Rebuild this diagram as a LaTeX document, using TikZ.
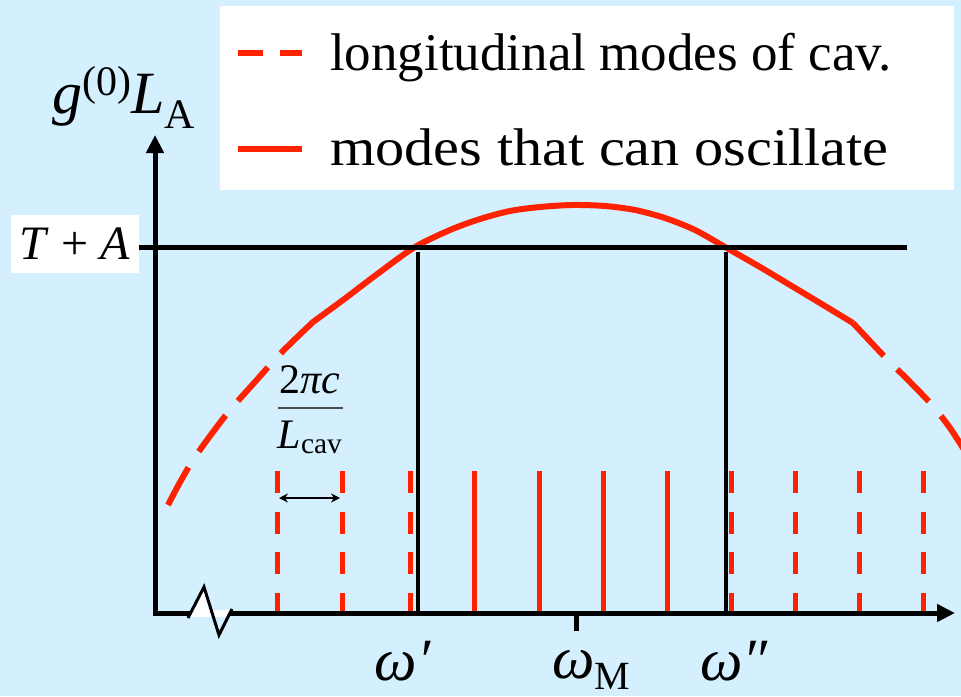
\documentclass[tikz,border=0pt]{standalone}
\usepackage{fontspec}
\setmainfont{Liberation Serif}
\usetikzlibrary{arrows.meta}
\definecolor{skyback}{RGB}{212,239,253}
\definecolor{modered}{RGB}{255,34,0}

\begin{document}
\begin{tikzpicture}[x=1pt, y=-1pt,
    axis/.style={line width=5pt, {Triangle[length=18pt,width=17pt]}-{Triangle[length=18pt,width=17pt]}},
    level/.style={line width=5pt},
    cutoff/.style={line width=3.5pt},
    gain/.style={modered, line width=6pt},
    gaindash/.style={gain, dash pattern=on 45pt off 19pt},
    mode/.style={modered, line width=5pt},
    modedash/.style={mode, dash pattern=on 22pt off 18.5pt},
    legtext/.style={anchor=base west, inner sep=0pt, font=\fontsize{53}{60}\selectfont},
    omega/.style={anchor=base, inner sep=0pt, font=\fontsize{60}{66}\selectfont},
]

% Background
\fill[skyback] (0,0) rectangle (961,696);
\useasboundingbox (0,0) rectangle (961,696);

% Legend
\node[fill=white, anchor=north west, minimum width=734pt, minimum height=184pt, inner sep=0pt] (legend) at (220,6) {};
\coordinate (d1) at (238,53);
\coordinate (d2) at (302,53);
\draw[modered, line width=6pt, dash pattern=on 25pt off 17pt] (d1) -- (d2);
\node[legtext] (cavtext) at (330,70) {longitudinal modes of cav.};
\coordinate (s1) at (238,149);
\coordinate (s2) at (302,149);
\draw[modered, line width=6pt] (s1) -- (s2);
\node[legtext] (osctext) at (330,165) {\scalebox{1.1}[1]{modes that can oscillate}};

% Gain curve
\draw[gain] plot[smooth] coordinates {(313,322) (343,300) (380,272) (415,247) (450,230) (480,219) (510,211) (540,207) (573,205) (605,206) (635,210) (665,218) (695,230) (725,247) (760,267) (790,285) (820,303) (853,323)};
\draw[gaindash] plot[smooth] coordinates {(313,322) (282,352) (254,383) (230,410) (210,436) (193,460) (179,484) (168,505)};
\draw[gaindash] plot[smooth] coordinates {(853,323) (883,355) (910,382) (932,405) (950,428) (968,456)};

% Threshold
\coordinate (origin) at (155,613);
\node[fill=white, minimum width=128pt, minimum height=58pt, inner sep=0pt, font=\fontsize{48}{52}\selectfont] (thr) at (75,244) {\textit{T} + \textit{A}};
\coordinate (thrend) at (907,247);
\draw[level] (thr.east |- thrend) -- (thrend);
\coordinate (wp) at (418,252);
\coordinate (wpp) at (726,252);
\draw[cutoff] (wp) -- (wp |- origin);
\draw[cutoff] (wpp) -- (wpp |- origin);

% Modes
\foreach \x in {277,342,410,731,795,859,923}
    \draw[modedash] (\x,471) -- (\x,613);
\foreach \x in {474,539,603,667}
    \draw[mode] (\x,471) -- (\x,613);

% Axes
\coordinate (ytip) at (155,135);
\coordinate (xtip) at (955,613);
\draw[axis] (ytip) |- (xtip);
\fill[white] (189,617) -- (204,588) -- (211,611) -- (231,609) -- (226,617) -- cycle;
\draw[line width=3pt] (188,618) -- (204,587) -- (219,635) -- (232,609);
\coordinate (wm) at (576,613);
\draw[line width=5pt] (wm) -- ++(0,18);

% Labels
\node[anchor=base west, inner sep=0pt, font=\fontsize{60}{66}\selectfont] (ylabel) at (52,113) {\textit{g}\raisebox{18pt}{\fontsize{42}{42}\selectfont(0)}\textit{L}\raisebox{-15pt}{\fontsize{42}{42}\selectfont A}};
\node[omega] (lblwp) at (403,680) {\textit{ω′}};
\node[omega] (lblwm) at (591,678) {\textit{ω}\raisebox{-11pt}{\fontsize{40}{40}\selectfont M}};
\node[omega] (lblwpp) at (734,680) {\textit{ω″}};

% Mode spacing
\node[anchor=base, inner sep=0pt, font=\fontsize{42}{44}\selectfont] (num) at (310,393) {2\textit{πc}};
\node[anchor=base, inner sep=0pt, font=\fontsize{42}{44}\selectfont] (den) at (310,448) {\textit{L}\textsubscript{cav}};
\coordinate (barl) at (278,408);
\coordinate (barr) at (343,408);
\draw[line width=1.2pt, black!70] (barl) -- (barr);
\coordinate (sl) at (279,498);
\coordinate (sr) at (340,498);
\draw[line width=2pt, {Stealth[length=9pt,width=9pt]}-{Stealth[length=9pt,width=9pt]}] (sl) -- (sr);

\end{tikzpicture}
\end{document}
